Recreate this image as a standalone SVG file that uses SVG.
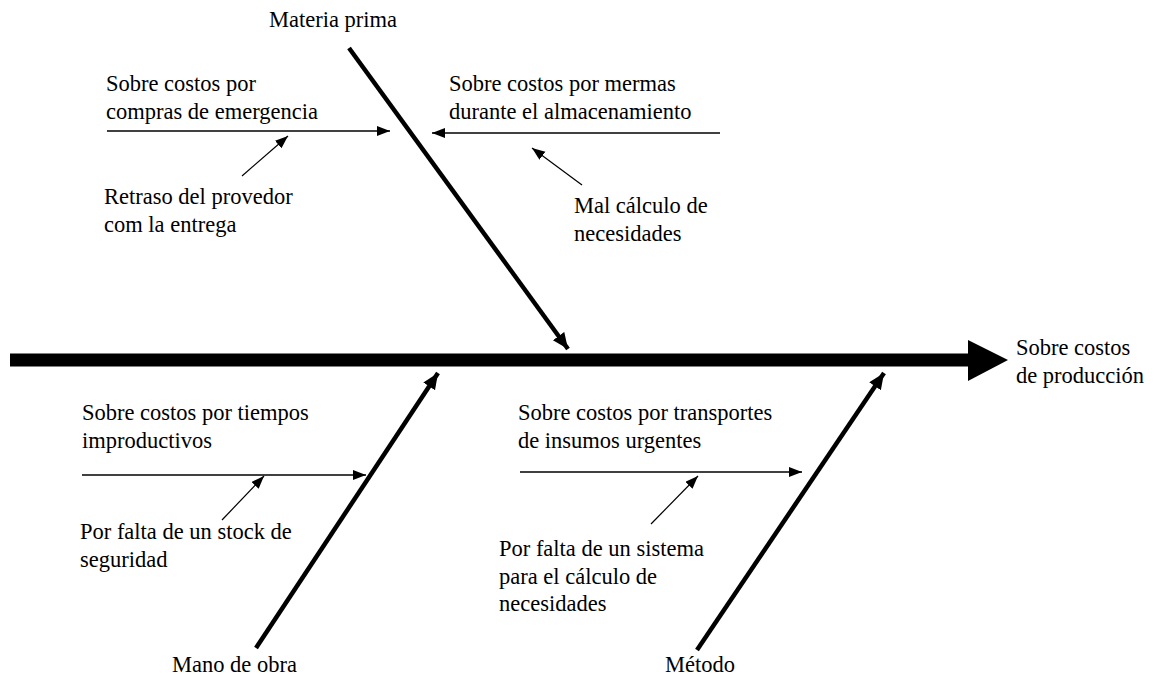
<svg xmlns="http://www.w3.org/2000/svg" width="1154" height="675" viewBox="0 0 1154 675">
<style>
text{font-family:"Liberation Serif","Times New Roman",Times,serif;font-size:22.5px;fill:#000}
.thin{stroke:#000;stroke-width:1.6;fill:none}
.fine{stroke:#000;stroke-width:1.2;fill:none}
.bone{stroke:#000;stroke-width:4.5;fill:none}
</style>
<defs>
<marker id="ah" markerUnits="userSpaceOnUse" markerWidth="14" markerHeight="12" refX="13" refY="5" orient="auto"><path d="M0,0 L13,5 L0,10 z" fill="#000"/></marker>
<marker id="ahb" markerUnits="userSpaceOnUse" markerWidth="18" markerHeight="16" refX="16" refY="7" orient="auto"><path d="M0,0 L16,7 L0,14 z" fill="#000"/></marker>
</defs>
<g id="connectors">
<rect x="10" y="353.5" width="960" height="13" fill="#000"/>
<polygon points="968,340 1008,360 968,381" fill="#000"/>
<line class="bone" x1="349" y1="48" x2="568" y2="349" marker-end="url(#ahb)"/>
<line class="bone" x1="256" y1="648" x2="438" y2="373" marker-end="url(#ahb)"/>
<line class="bone" x1="697" y1="650" x2="884" y2="373" marker-end="url(#ahb)"/>
<line class="thin" x1="107" y1="131" x2="390" y2="131" marker-end="url(#ah)"/>
<line class="thin" x1="720" y1="133" x2="432" y2="133" marker-end="url(#ah)"/>
<line class="thin" x1="82" y1="475" x2="366" y2="475" marker-end="url(#ah)"/>
<line class="thin" x1="520" y1="472" x2="802" y2="472" marker-end="url(#ah)"/>
<line class="fine" x1="242" y1="176" x2="288" y2="136" marker-end="url(#ah)"/>
<line class="fine" x1="582" y1="185" x2="532" y2="148" marker-end="url(#ah)"/>
<line class="fine" x1="222" y1="520" x2="264" y2="476" marker-end="url(#ah)"/>
<line class="fine" x1="651" y1="524" x2="698" y2="476" marker-end="url(#ah)"/>
</g>
<g id="effect"><text x="1016" y="355">Sobre costos</text><text x="1016" y="383">de producción</text></g>
<g id="cat-materia"><text x="269" y="27">Materia prima</text></g>
<g id="cat-mano"><text x="172" y="672">Mano de obra</text></g>
<g id="cat-metodo"><text x="665" y="672">Método</text></g>
<g id="c1"><text x="106" y="91">Sobre costos por</text><text x="106" y="119">compras de emergencia</text></g>
<g id="c1a"><text x="104" y="204">Retraso del provedor</text><text x="104" y="232">com la entrega</text></g>
<g id="c2"><text x="449" y="91">Sobre costos por mermas</text><text x="449" y="119">durante el almacenamiento</text></g>
<g id="c2a"><text x="574" y="213">Mal cálculo de</text><text x="574" y="241">necesidades</text></g>
<g id="c3"><text x="82" y="420">Sobre costos por tiempos</text><text x="82" y="448">improductivos</text></g>
<g id="c3a"><text x="80" y="539">Por falta de un stock de</text><text x="80" y="567">seguridad</text></g>
<g id="c4"><text x="518" y="420">Sobre costos por transportes</text><text x="518" y="448">de insumos urgentes</text></g>
<g id="c4a"><text x="499" y="556">Por falta de un sistema</text><text x="499" y="584">para el cálculo de</text><text x="499" y="611">necesidades</text></g>
</svg>
